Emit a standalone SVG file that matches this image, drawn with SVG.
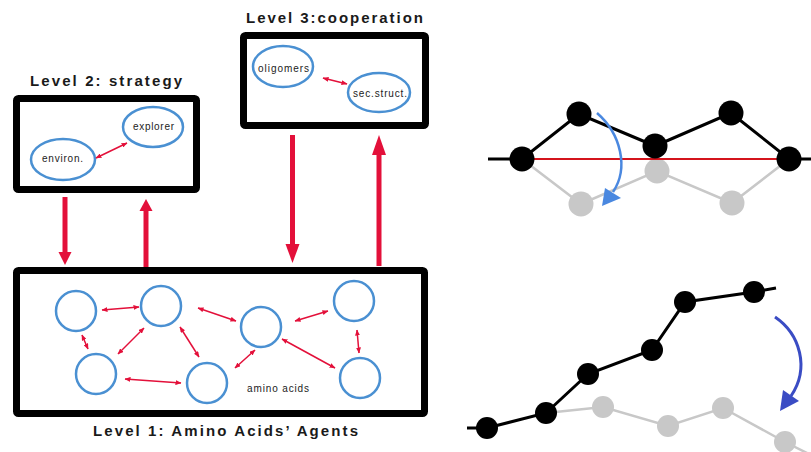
<svg xmlns="http://www.w3.org/2000/svg" width="811" height="452" viewBox="0 0 811 452">
<style>
.box{fill:#fff;stroke:#000;stroke-width:7}
.title{font-family:"Liberation Sans",Arial,sans-serif;font-weight:bold;font-size:15px;fill:#1a1a1a}
.lbl{font-family:"Liberation Sans",Arial,sans-serif;font-size:10px;fill:#222}
.el{fill:#fff;stroke:#4a90d2;stroke-width:2.5}
.sa{stroke:#e3103a;stroke-width:1.5;fill:none;marker-start:url(#sh);marker-end:url(#sh)}
.big{stroke:#e3103a;stroke-width:5;fill:none}
.bh{fill:#e3103a}
.bl{stroke:#000;stroke-width:3;fill:none}
.gl{stroke:#c8c8c8;stroke-width:2.5;fill:none}
.bn{fill:#000}
.gn{fill:#c8c8c8}
</style>
<defs>
<marker id="sh" viewBox="0 0 6 5" refX="5.5" refY="2.5" markerWidth="6" markerHeight="5" markerUnits="userSpaceOnUse" orient="auto-start-reverse">
<path d="M0,0 L6,2.5 L0,5 z" fill="#e3103a"/>
</marker>
</defs>
<rect width="811" height="452" fill="#fff"/>

<g id="level2">
<rect class="box" x="16.5" y="98.5" width="180" height="91" rx="2"/>
<text class="title" x="30" y="86" textLength="152" lengthAdjust="spacing">Level 2: strategy</text>
</g>
<g id="explorer">
<ellipse class="el" cx="153" cy="127" rx="30" ry="20"/>
<text class="lbl" x="133" y="130" textLength="41" lengthAdjust="spacing">explorer</text>
</g>
<g id="environ">
<ellipse class="el" cx="63" cy="159.5" rx="32" ry="20.5"/>
<text class="lbl" x="42" y="162" textLength="41" lengthAdjust="spacing">environ.</text>
</g>

<g id="level3">
<rect class="box" x="243.5" y="35.5" width="182" height="90" rx="2"/>
<text class="title" x="246" y="23" textLength="177" lengthAdjust="spacing">Level 3:cooperation</text>
</g>
<g id="oligomers">
<ellipse class="el" cx="283" cy="66.5" rx="30" ry="20.5"/>
<text class="lbl" x="258" y="72" font-size="11" textLength="51" lengthAdjust="spacing">oligomers</text>
</g>
<g id="secstruct">
<ellipse class="el" cx="379" cy="92.5" rx="31" ry="19.5"/>
<text class="lbl" x="353" y="97" font-size="11" textLength="54" lengthAdjust="spacing">sec.struct.</text>
</g>

<g id="level1">
<rect class="box" x="16.5" y="270.5" width="408" height="143" rx="2"/>
<text class="title" x="93" y="436" textLength="265" lengthAdjust="spacing">Level 1: Amino Acids’ Agents</text>
<text class="lbl" x="247" y="392" textLength="62" lengthAdjust="spacing">amino acids</text>
</g>
<g id="aa1"><circle class="el" cx="76" cy="311" r="20"/></g>
<g id="aa2"><circle class="el" cx="161" cy="306" r="20"/></g>
<g id="aa3"><circle class="el" cx="261" cy="327" r="20"/></g>
<g id="aa4"><circle class="el" cx="354" cy="301" r="20"/></g>
<g id="aa5"><circle class="el" cx="96" cy="374" r="20"/></g>
<g id="aa6"><circle class="el" cx="207" cy="383" r="20"/></g>
<g id="aa7"><circle class="el" cx="360" cy="378" r="20"/></g>

<g id="connectors">
<line class="sa" x1="96" y1="158" x2="127" y2="143"/>
<line class="sa" x1="323" y1="78" x2="347" y2="84"/>
<line class="sa" x1="102" y1="310" x2="139" y2="307"/>
<line class="sa" x1="198" y1="308" x2="236" y2="321"/>
<line class="sa" x1="295" y1="321" x2="328" y2="311"/>
<line class="sa" x1="82" y1="335" x2="88" y2="349"/>
<line class="sa" x1="144" y1="328" x2="118" y2="354"/>
<line class="sa" x1="180" y1="327" x2="199" y2="357"/>
<line class="sa" x1="357" y1="330" x2="359" y2="353"/>
<line class="sa" x1="125" y1="379" x2="181" y2="383"/>
<line class="sa" x1="235" y1="368" x2="255" y2="350"/>
<line class="sa" x1="282" y1="339" x2="335" y2="368"/>

<line class="big" x1="65" y1="197" x2="65" y2="254"/>
<polygon class="bh" points="58.5,252 71.5,252 65,265"/>
<line class="big" x1="146" y1="267" x2="146" y2="208"/>
<polygon class="bh" points="139.5,211 152.5,211 146,199"/>
<line class="big" x1="292.5" y1="135" x2="292.5" y2="247"/>
<polygon class="bh" points="285.5,244 299.5,244 292.5,263"/>
<line class="big" x1="379" y1="266" x2="379" y2="153"/>
<polygon class="bh" points="372,155 386,155 379,135"/>
</g>

<g id="fold-top">
<polyline class="gl" points="522,159 581,204 657,171 732,203 789,159"/>
<circle class="gn" cx="581" cy="204" r="12.5"/>
<circle class="gn" cx="657" cy="171" r="12.5"/>
<circle class="gn" cx="732" cy="203" r="12.5"/>
<polyline class="bl" points="488,159 522,159 579,114 655,146 731,113 789,159 811,159"/>
<line x1="522" y1="159" x2="789" y2="159" stroke="#d4141c" stroke-width="2"/>
<circle class="bn" cx="522" cy="159" r="12.5"/>
<circle class="bn" cx="579" cy="114" r="12.5"/>
<circle class="bn" cx="655" cy="146" r="12.5"/>
<circle class="bn" cx="731" cy="113" r="12.5"/>
<circle class="bn" cx="789" cy="159" r="12.5"/>
<path d="M597,113 C621,134 629,168 613,192" stroke="#4a88e0" stroke-width="2.5" fill="none"/>
<polygon points="602,206 605,188 621,198" fill="#4a88e0"/>
</g>

<g id="fold-bottom">
<polyline class="gl" points="546,413 603,407 668,426 723,408 785,442 811,455"/>
<circle class="gn" cx="603" cy="407" r="11"/>
<circle class="gn" cx="668" cy="426" r="11"/>
<circle class="gn" cx="723" cy="408" r="11"/>
<circle class="gn" cx="785" cy="442" r="11"/>
<polyline class="bl" points="467,428 487,428 546,413 588,374 652,350 685,302 754,292 776,288"/>
<circle class="bn" cx="487" cy="428" r="11"/>
<circle class="bn" cx="546" cy="413" r="11"/>
<circle class="bn" cx="588" cy="374" r="11"/>
<circle class="bn" cx="652" cy="350" r="11"/>
<circle class="bn" cx="685" cy="302" r="11"/>
<circle class="bn" cx="754" cy="292" r="11"/>
<path d="M775,317 C800,334 810,368 791,396" stroke="#3a4cc4" stroke-width="3" fill="none"/>
<polygon points="780,411 783,390 799,401" fill="#3a4cc4"/>
</g>
</svg>
